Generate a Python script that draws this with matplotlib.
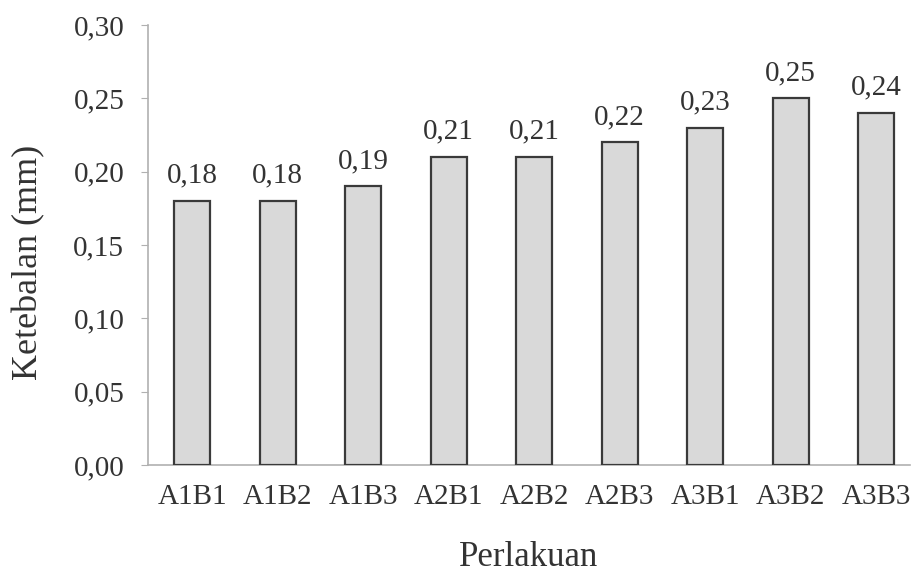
import matplotlib
matplotlib.use("Agg")
import matplotlib.pyplot as plt

categories = ["A1B1", "A1B2", "A1B3", "A2B1", "A2B2", "A2B3", "A3B1", "A3B2", "A3B3"]
values = [0.18, 0.18, 0.19, 0.21, 0.21, 0.22, 0.23, 0.25, 0.24]
yticks = [0.00, 0.05, 0.10, 0.15, 0.20, 0.25, 0.30]

plt.rcParams['font.family'] = ['Liberation Serif', 'DejaVu Serif']
fig = plt.figure(figsize=(9.13, 5.83), dpi=100)
ax = fig.add_axes([0.162, 0.2024, 0.835, 0.7546])

x = list(range(len(categories)))
bars = ax.bar(x, values, width=0.42, color='#d9d9d9', edgecolor='#3a3a3a', linewidth=1.6, zorder=3)
for xi, v in zip(x, values):
    ax.annotate(f"{v:.2f}".replace('.', ','), (xi, v), xytext=(0, 9), textcoords='offset points',
                ha='center', va='bottom', fontsize=21, color='#333333')

ax.set_xlim(-0.52, 8.4)
ax.set_ylim(0, 0.30)
ax.set_yticks(yticks)
ax.set_yticklabels([f"{t:.2f}".replace('.', ',') for t in yticks], fontsize=21, color='#333333')
ax.set_xticks(x)
ax.set_xticklabels(categories, fontsize=21, color='#333333')
for s in ['top', 'right']:
    ax.spines[s].set_visible(False)
for s in ['left', 'bottom']:
    ax.spines[s].set_color('#b0b0b0')
    ax.spines[s].set_linewidth(1.2)
ax.tick_params(axis='y', length=5, color='#b0b0b0', pad=12)
ax.tick_params(axis='x', length=0, pad=14)
ax.set_ylabel("Ketebalan (mm)", fontsize=26, color='#333333')
ax.yaxis.set_label_coords(-0.135, 0.46)
ax.set_xlabel("Perlakuan", fontsize=25, color='#333333', labelpad=22)

fig.savefig("out.png", dpi=100)
